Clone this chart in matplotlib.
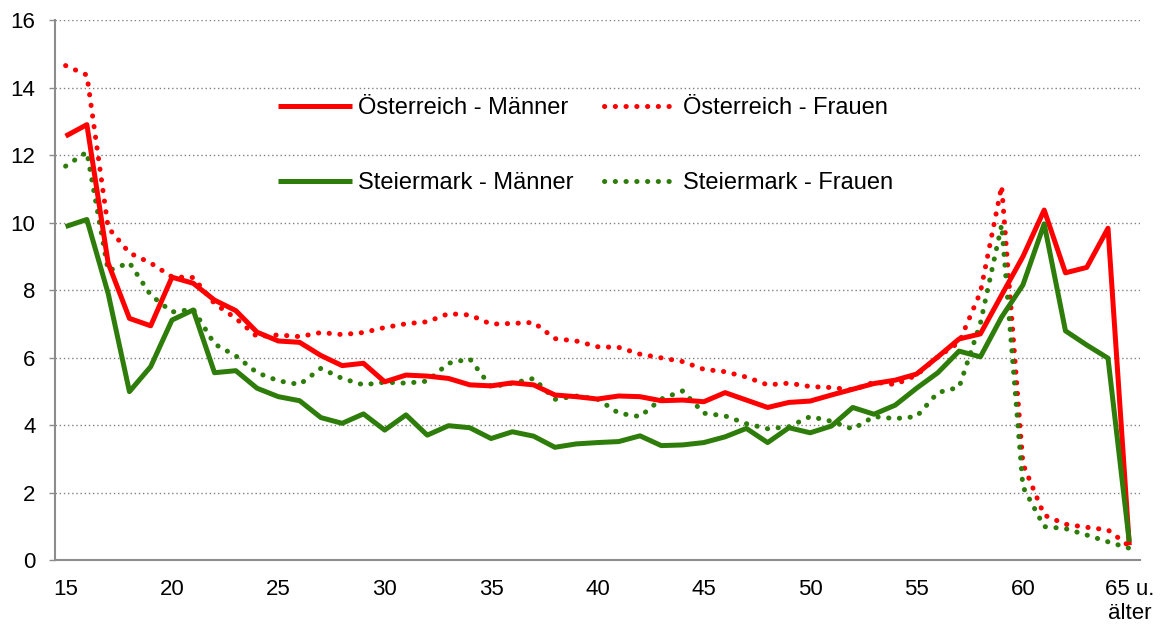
"""Altersverteilung: Österreich vs. Steiermark, Männer und Frauen."""

import matplotlib

matplotlib.use("Agg")

import matplotlib.pyplot as plt

plt.rcParams["font.family"] = ["Liberation Sans", "DejaVu Sans"]

# Data
ages = list(range(15, 66))
tick_pos = [15, 20, 25, 30, 35, 40, 45, 50, 55, 60, 65]
tick_labels = ["15", "20", "25", "30", "35", "40", "45", "50", "55", "60", "65 u.\nälter"]

at_maenner = [
    12.56, 12.90, 8.80, 7.16, 6.94, 8.38, 8.20, 7.70, 7.39, 6.75,
    6.49, 6.45, 6.06, 5.76, 5.83, 5.28, 5.48, 5.45, 5.38, 5.19,
    5.16, 5.25, 5.19, 4.89, 4.84, 4.77, 4.86, 4.84, 4.72, 4.74,
    4.69, 4.96, 4.74, 4.52, 4.67, 4.71, 4.89, 5.06, 5.23, 5.33,
    5.51, 6.02, 6.55, 6.70, 7.85, 8.99, 10.37, 8.51, 8.67, 9.83,
    0.44,
]
at_frauen = [
    14.65, 14.37, 9.85, 9.10, 8.80, 8.39, 8.37, 7.60, 7.16, 6.62,
    6.67, 6.62, 6.74, 6.68, 6.74, 6.89, 7.00, 7.06, 7.30, 7.26,
    6.99, 7.01, 7.04, 6.56, 6.49, 6.32, 6.30, 6.10, 5.99, 5.88,
    5.65, 5.58, 5.42, 5.19, 5.24, 5.14, 5.11, 5.04, 5.27, 5.20,
    5.48, 6.02, 6.45, 7.93, 11.08, 2.85, 1.33, 1.06, 0.97, 0.89,
    0.41,
]
st_maenner = [
    9.88, 10.09, 7.90, 4.99, 5.73, 7.11, 7.41, 5.55, 5.61, 5.09,
    4.84, 4.72, 4.22, 4.05, 4.33, 3.85, 4.30, 3.70, 3.98, 3.92,
    3.60, 3.80, 3.67, 3.34, 3.44, 3.48, 3.51, 3.68, 3.39, 3.41,
    3.48, 3.65, 3.90, 3.48, 3.92, 3.77, 3.97, 4.52, 4.32, 4.59,
    5.09, 5.55, 6.19, 6.02, 7.20, 8.15, 9.96, 6.79, 6.37, 5.98,
    0.54,
]
st_frauen = [
    11.67, 12.09, 8.57, 8.81, 7.85, 7.35, 7.43, 6.40, 6.05, 5.55,
    5.31, 5.20, 5.68, 5.38, 5.19, 5.27, 5.24, 5.30, 5.83, 5.96,
    5.13, 5.24, 5.38, 4.76, 4.86, 4.77, 4.35, 4.25, 4.77, 5.01,
    4.35, 4.27, 4.04, 3.89, 3.95, 4.25, 4.11, 3.88, 4.25, 4.19,
    4.25, 4.96, 5.12, 7.01, 9.93, 2.17, 0.99, 0.93, 0.74, 0.54,
    0.35,
]

RED = "#FF0000"
GREEN = "#2E7D0B"
LW = 3.6
DOTS = (0, (0.05, 2.1))

fig = plt.figure(figsize=(11.62, 6.26), dpi=100)
ax = fig.add_axes([0.0473, 0.1054, 0.9337, 0.8626])

# Draw order: dotted below solid as in the original
ax.plot(ages, at_frauen, color=RED, lw=LW, linestyle=DOTS,
        dash_capstyle="round", label="Österreich - Frauen", zorder=3)
ax.plot(ages, st_frauen, color=GREEN, lw=LW, linestyle=DOTS,
        dash_capstyle="round", label="Steiermark - Frauen", zorder=3)
ax.plot(ages, at_maenner, color=RED, lw=LW, solid_capstyle="butt",
        label="Österreich - Männer", zorder=4)
ax.plot(ages, st_maenner, color=GREEN, lw=LW, solid_capstyle="butt",
        label="Steiermark - Männer", zorder=4)

ax.set_xlim(14.5, 65.5)
ax.set_ylim(0, 16)
ax.set_yticks(range(0, 17, 2))
ax.set_xticks(tick_pos)
ax.set_xticklabels(tick_labels, linespacing=1.15)

ax.grid(axis="y", color="#808080", linestyle=(0, (1, 2)), linewidth=1.0)
ax.set_axisbelow(True)

for side in ("top", "right"):
    ax.spines[side].set_visible(False)
for side in ("left", "bottom"):
    ax.spines[side].set_color("#8C8C8C")
    ax.spines[side].set_linewidth(1.5)

ax.tick_params(axis="y", length=4, color="#8C8C8C", width=1, pad=10, labelsize=16)
ax.tick_params(axis="x", length=0, pad=14, labelsize=16)

# 2x2 legend, order: row 1 Österreich, row 2 Steiermark
handles, labels = ax.get_legend_handles_labels()
order = [2, 3, 0, 1]
ax.legend(
    [handles[i] for i in order],
    [labels[i] for i in order],
    ncol=2,
    loc="upper left",
    bbox_to_anchor=(0.206, 0.857),
    frameon=False,
    fontsize=17,
    handlelength=3.1,
    handletextpad=0.25,
    columnspacing=1.3,
    labelspacing=2.25,
    borderaxespad=0,
    borderpad=0,
)

fig.savefig("out.png", dpi=100)
